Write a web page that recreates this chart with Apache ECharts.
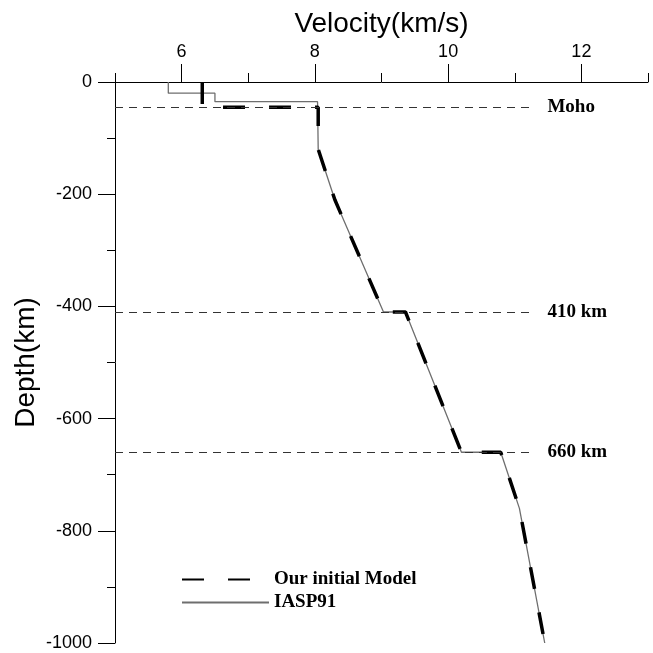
<!DOCTYPE html>
<html>
<head>
<meta charset="utf-8">
<script src="https://cdn.jsdelivr.net/npm/echarts@6/dist/echarts.min.js"></script>
<style>html,body{margin:0;padding:0;background:#fff}#c{width:653px;height:653px}</style>
</head>
<body>
<div id="c"></div>
<script>
// IASP91 reference model (velocity km/s, depth km)
var iaspVel   = [5.8, 5.8, 6.5, 6.5, 8.04, 8.05, 8.30, 9.03, 9.36, 10.20, 10.79, 11.07, 11.45];
var iaspDepth = [0, -20, -20, -35, -35, -120, -210, -410, -410, -660, -660, -760, -1000];
// Our initial model
var modelVel   = [6.31, 6.31, 8.05, 8.05, 8.30, 9.03, 9.36, 10.20, 10.79, 11.07, 11.45];
var modelDepth = [0, -45, -45, -120, -210, -410, -410, -660, -660, -760, -1000];
// Discontinuities
var boundDepth = [-45, -410, -660];
var boundLabel = ['Moho', '410 km', '660 km'];
var boundStart = 5, boundEnd = 11.22;
// Axis ticks
var xMajorTicks = [6, 8, 10, 12];
var seriesNames = ['Our initial Model', 'IASP91'];

function pairs(xs, ys){ return xs.map(function(v,i){ return [v, ys[i]]; }); }

var sans = '"Liberation Sans", Arial, Helvetica, sans-serif';
var serif = '"Liberation Serif", "Times New Roman", serif';

var chart = echarts.init(document.getElementById('c'), null, {renderer:'canvas'});
chart.setOption({
  animation: false,
  grid: {left: 115, right: 5, top: 82, bottom: 10, containLabel: false, outerBoundsMode: 'none'},
  legend: {
    orient: 'vertical', left: 181, top: 570, padding: 0,
    data: seriesNames,
    itemWidth: 87, itemHeight: 14, itemGap: 4,
    itemStyle: {opacity: 0},
    textStyle: {fontFamily: serif, fontWeight: 'bold', fontSize: 19, color: '#000'}
  },
  xAxis: [{
    type: 'value', position: 'top', min: 5, max: 13, interval: 1,
    name: 'Velocity(km/s)', nameLocation: 'middle', nameGap: 44,
    nameTextStyle: {fontFamily: sans, fontSize: 28, color: '#000'},
    axisLine: {onZero: false, lineStyle: {color: '#000', width: 1}},
    axisTick: {length: 9, lineStyle: {color: '#000'}},
    axisLabel: {show: false},
    splitLine: {show: false}
  }, {
    type: 'value', position: 'top', min: 5, max: 13, interval: 1,
    axisLine: {show: false, onZero: false},
    axisTick: {length: 18, customValues: xMajorTicks, lineStyle: {color: '#000'}},
    axisLabel: {customValues: xMajorTicks, margin: 21, fontFamily: sans, fontSize: 18, color: '#000'},
    splitLine: {show: false}
  }],
  yAxis: {
    type: 'value', min: -1000, max: 0, interval: 200,
    name: 'Depth(km)', nameLocation: 'middle', nameGap: 75, nameMoveOverlap: false,
    nameTextStyle: {fontFamily: sans, fontSize: 28, color: '#000'},
    axisLine: {show: true, onZero: false, lineStyle: {color: '#000', width: 1}},
    axisTick: {show: true, length: 17, lineStyle: {color: '#000'}},
    minorTick: {show: true, splitNumber: 2, length: 8, lineStyle: {color: '#000'}},
    axisLabel: {margin: 23, fontFamily: sans, fontSize: 18, color: '#000',
      formatter: function(v){ return String(v); }},
    splitLine: {show: false}, minorSplitLine: {show: false}
  },
  series: [{
    name: 'IASP91', type: 'line', xAxisIndex: 0, symbol: 'none', silent: true,
    data: pairs(iaspVel, iaspDepth),
    lineStyle: {color: '#6e6e6e', width: 1.3},
    itemStyle: {color: '#6e6e6e'},
    markLine: {
      silent: true, symbol: 'none',
      lineStyle: {color: '#333', width: 1, type: [8, 6]},
      label: {position: 'end', distance: 18, formatter: '{b}', fontFamily: serif, fontWeight: 'bold', fontSize: 19, color: '#000'},
      data: boundDepth.map(function(d, i){
        return [{coord: [boundStart, d], name: boundLabel[i]}, {coord: [boundEnd, d]}];
      })
    },
    z: 2
  }, {
    name: 'Our initial Model', type: 'line', xAxisIndex: 0, symbol: 'none', silent: true,
    data: pairs(modelVel, modelDepth),
    lineStyle: {color: '#000', width: 3.5, type: [22, 24], cap: 'butt'},
    itemStyle: {color: '#000'},
    z: 3
  }]
});
</script>
</body>
</html>
